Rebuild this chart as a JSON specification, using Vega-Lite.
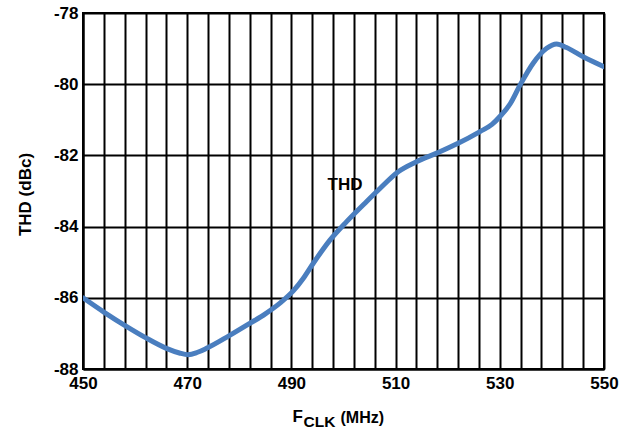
{
  "$schema": "https://vega.github.io/schema/vega-lite/v6.json",
  "width": 521,
  "height": 356,
  "autosize": {"type": "none"},
  "padding": {"left": 83, "top": 13, "right": 24, "bottom": 60},
  "background": "white",
  "config": {
    "font": "Liberation Sans",
    "view": {"stroke": "black", "strokeWidth": 2},
    "axis": {"labelFont": "Liberation Sans", "titleFont": "Liberation Sans"}
  },
  "datasets": {
    "thd": [
      {"f": 450, "v": -86.0},
      {"f": 454, "v": -86.4},
      {"f": 458.4, "v": -86.81},
      {"f": 462, "v": -87.12},
      {"f": 466, "v": -87.42},
      {"f": 468.5, "v": -87.55},
      {"f": 470.2, "v": -87.6},
      {"f": 472, "v": -87.53},
      {"f": 473.7, "v": -87.42},
      {"f": 478, "v": -87.07},
      {"f": 482, "v": -86.72},
      {"f": 485, "v": -86.45},
      {"f": 487.8, "v": -86.15},
      {"f": 490.4, "v": -85.8},
      {"f": 492.3, "v": -85.45},
      {"f": 494.2, "v": -85.03},
      {"f": 497.4, "v": -84.38},
      {"f": 500.6, "v": -83.86},
      {"f": 504.4, "v": -83.3},
      {"f": 507, "v": -82.93},
      {"f": 510.5, "v": -82.46},
      {"f": 514, "v": -82.18},
      {"f": 518, "v": -81.93},
      {"f": 522, "v": -81.66},
      {"f": 526.2, "v": -81.33},
      {"f": 528.5, "v": -81.13},
      {"f": 530.2, "v": -80.88},
      {"f": 532, "v": -80.55},
      {"f": 533.9, "v": -80.02},
      {"f": 536.4, "v": -79.41},
      {"f": 539, "v": -78.99},
      {"f": 540.9, "v": -78.87},
      {"f": 542.8, "v": -78.97},
      {"f": 546, "v": -79.23},
      {"f": 550, "v": -79.51}
    ]
  },
  "resolve": {"axis": {"x": "independent", "y": "independent"}},
  "layer": [
    {
      "data": {"name": "thd"},
      "mark": {"type": "line", "interpolate": "monotone", "color": "#4a7ebf", "strokeWidth": 5, "strokeCap": "round", "clip": true},
      "encoding": {
        "x": {
          "field": "f", "type": "quantitative",
          "scale": {"domain": [450, 550], "nice": false, "zero": false},
          "axis": {
            "orient": "bottom",
            "values": [450,454,458,462,466,470,474,478,482,486,490,494,498,502,506,510,514,518,522,526,530,534,538,542,546,550],
            "labelExpr": "(datum.value - 450) % 20 === 0 ? toString(datum.value) : ''",
            "grid": true, "gridColor": "black", "gridWidth": 2, "gridOpacity": 1,
            "ticks": false, "domain": true, "domainColor": "black", "domainWidth": 2,
            "labelFontSize": 17, "labelFontWeight": "bold", "labelColor": "black", "labelPadding": 6,
            "labelFlush": false, "labelOverlap": false,
            "title": "F", "titleFontSize": 17, "titleFontWeight": "bold", "titleColor": "black",
            "titleAlign": "left", "titleBaseline": "alphabetic", "titleX": 209, "titleY": 52, "titleAngle": 0
          }
        },
        "y": {
          "field": "v", "type": "quantitative",
          "scale": {"domain": [-88, -78], "nice": false, "zero": false},
          "axis": {
            "orient": "left",
            "values": [-88, -86, -84, -82, -80, -78],
            "labelExpr": "toString(datum.value)",
            "grid": true, "gridColor": "black", "gridWidth": 2, "gridOpacity": 1,
            "ticks": false, "domain": true, "domainColor": "black", "domainWidth": 2,
            "labelFontSize": 17, "labelFontWeight": "bold", "labelColor": "black", "labelPadding": 5,
            "labelFlush": false, "labelOverlap": false,
            "title": "THD (dBc)", "titleFontSize": 17, "titleFontWeight": "bold", "titleColor": "black",
            "titleAngle": -90, "titleAlign": "center", "titleBaseline": "middle", "titleX": -58, "titleY": 181
          }
        }
      }
    },
    {
      "data": {"values": [{"label": "THD"}]},
      "mark": {"type": "text", "fontSize": 17, "fontWeight": "bold", "color": "black", "align": "center", "baseline": "middle", "font": "Liberation Sans"},
      "encoding": {
        "x": {
          "datum": 500.3, "type": "quantitative",
          "axis": {
            "orient": "bottom", "labels": false, "ticks": false, "domain": false, "grid": false,
            "title": "CLK", "titleFontSize": 15.5, "titleFontWeight": "bold", "titleColor": "black",
            "titleAlign": "left", "titleBaseline": "alphabetic", "titleX": 220, "titleY": 57, "titleAngle": 0
          }
        },
        "y": {"datum": -82.83, "type": "quantitative", "axis": null},
        "text": {"field": "label"}
      }
    },
    {
      "data": {"name": "thd"},
      "mark": {"type": "line", "opacity": 0},
      "encoding": {
        "x": {
          "field": "f", "type": "quantitative",
          "axis": {
            "orient": "bottom", "labels": false, "ticks": false, "domain": false, "grid": false,
            "title": "(MHz)", "titleFontSize": 16, "titleFontWeight": "bold", "titleColor": "black",
            "titleAlign": "left", "titleBaseline": "alphabetic", "titleX": 257, "titleY": 53, "titleAngle": 0
          }
        },
        "y": {"field": "v", "type": "quantitative", "axis": null}
      }
    }
  ]
}
